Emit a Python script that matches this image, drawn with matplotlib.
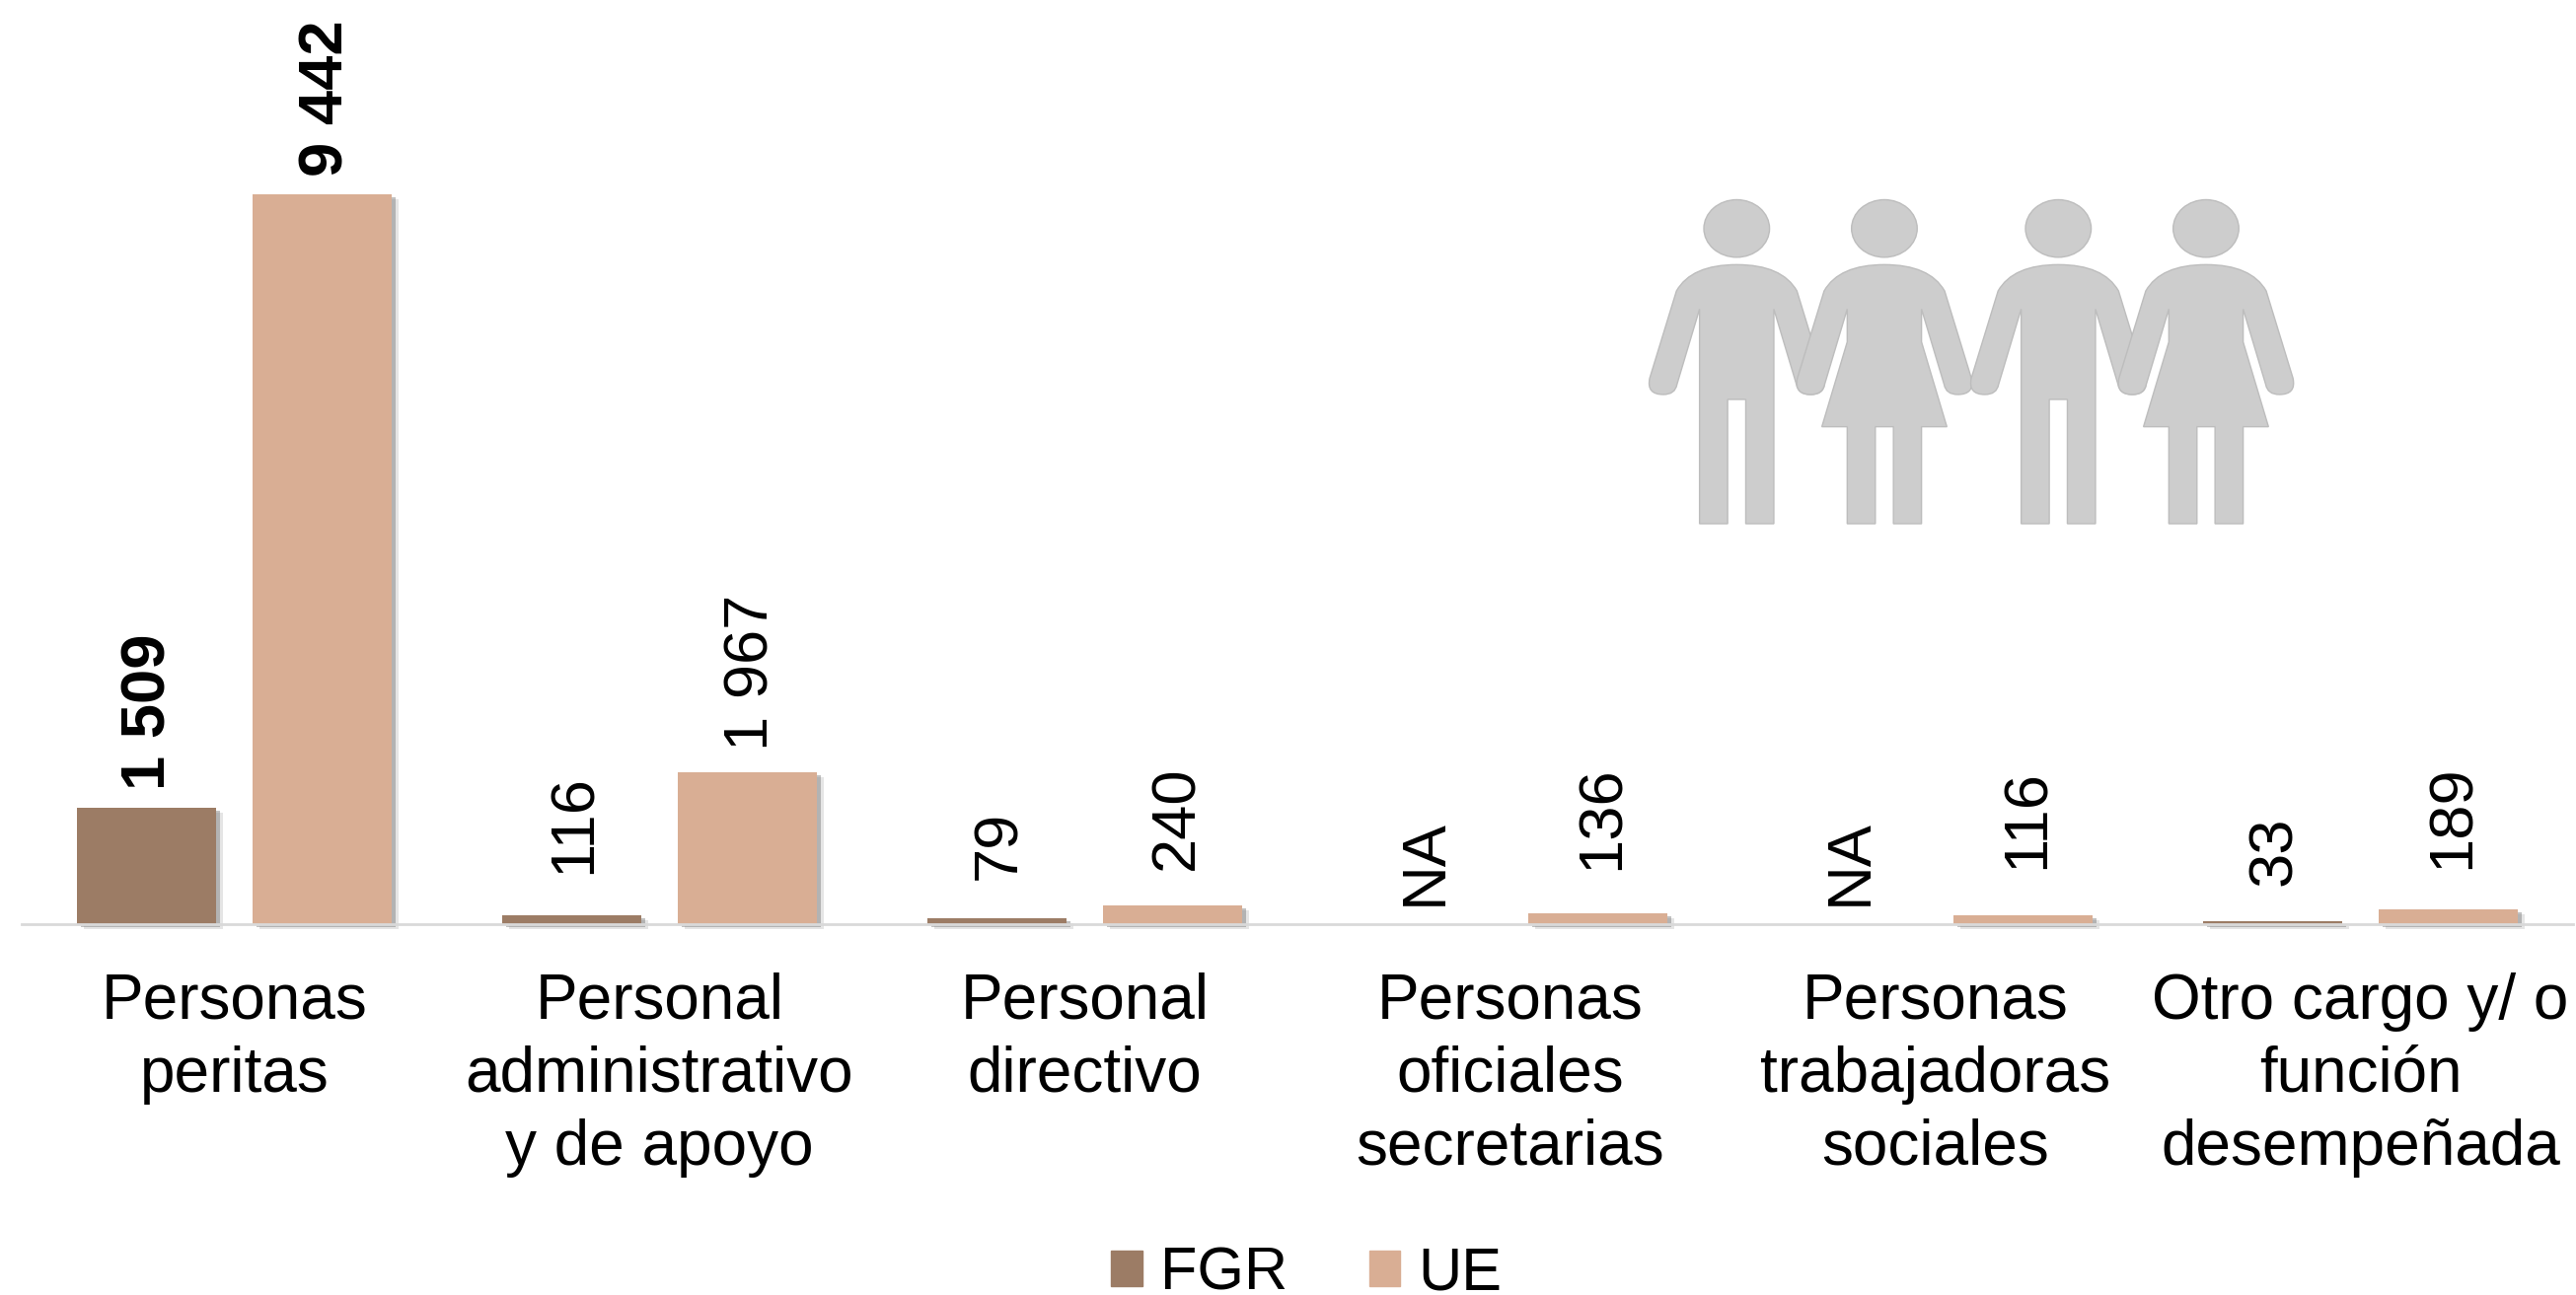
import numpy as np
import matplotlib
matplotlib.use('Agg')
import matplotlib.pyplot as plt
import matplotlib.patheffects as pe
from matplotlib.patches import Ellipse, Patch, PathPatch
from matplotlib.path import Path

plt.rcParams['font.family'] = ['Liberation Sans', 'DejaVu Sans']

categories = ['Personas\nperitas', 'Personal\nadministrativo\ny de apoyo', 'Personal\ndirectivo',
              'Personas\noficiales\nsecretarias', 'Personas\ntrabajadoras\nsociales',
              'Otro cargo y/ o\nfunción\ndesempeñada']
fgr_values = [1509, 116, 79, 0, 0, 33]
ue_values = [9442, 1967, 240, 136, 116, 189]
fgr_labels = ['1 509', '116', '79', 'NA', 'NA', '33']
ue_labels = ['9 442', '1 967', '240', '136', '116', '189']

FGR_COLOR = '#9C7C65'
UE_COLOR = '#D9AE94'
W, H = 2611, 1313

# separacion de cada etiqueta sobre su barra, en puntos
fgr_gaps = [13, 30, 28, 14, 14, 26]
ue_gaps = [13, 16, 26, 32, 34, 30]

fig = plt.figure(figsize=(W / 100, H / 100), dpi=100)
base_y = 937
left, right = 22, 2608
ax = fig.add_axes([left / W, (H - base_y) / H, (right - left) / W, base_y / H])
ax.patch.set_alpha(0)

x = np.arange(len(categories))
bar_w = 0.327
offset = 0.207
shadow = [pe.SimplePatchShadow(offset=(5, -3.5), shadow_rgbFace='#999999', alpha=0.25),
          pe.SimplePatchShadow(offset=(3, -2), shadow_rgbFace='#777777', alpha=0.45), pe.Normal()]
bars1 = ax.bar(x - offset, fgr_values, bar_w, color=FGR_COLOR, path_effects=shadow, clip_on=False)
bars2 = ax.bar(x + offset, ue_values, bar_w, color=UE_COLOR, path_effects=shadow, clip_on=False)

ax.set_xlim(-0.5, 5.5)
ax.set_ylim(0, 9442 * base_y / 740)

for i, (v, lab, gap) in enumerate(zip(fgr_values, fgr_labels, fgr_gaps)):
    ax.annotate(lab, (x[i] - offset, v), xytext=(2, gap), textcoords='offset points', rotation=90,
                ha='center', va='bottom', fontsize=45.5, fontweight='bold' if i == 0 else 'normal')
for i, (v, lab, gap) in enumerate(zip(ue_values, ue_labels, ue_gaps)):
    ax.annotate(lab, (x[i] + offset, v), xytext=(3, gap), textcoords='offset points', rotation=90,
                ha='center', va='bottom', fontsize=45.5, fontweight='bold' if i == 0 else 'normal')

for s in ['top', 'left', 'right']:
    ax.spines[s].set_visible(False)
ax.spines['bottom'].set_color('#D9D9D9')
ax.spines['bottom'].set_linewidth(2)
ax.set_yticks([])
ax.set_xticks(x)
ax.set_xticklabels(categories, fontsize=46, linespacing=1.3)
ax.tick_params(axis='x', length=0, pad=35)

handles = [Patch(color=FGR_COLOR, label='FGR'), Patch(color=UE_COLOR, label='UE')]
fig.legend(handles=handles, loc='lower left', bbox_to_anchor=(1077 / W, -0.043), ncol=2, frameon=False,
           fontsize=44, handlelength=0.52, handleheight=0.54, handletextpad=0.3, columnspacing=1.35,
           borderpad=0.3)

# figuras de personas, en pixeles de la imagen
pic = fig.add_axes([0, 0, 1, 1])
pic.set_xlim(0, W)
pic.set_ylim(H, 0)
pic.axis('off')
pic.patch.set_alpha(0)

M, L, C, Z = Path.MOVETO, Path.LINETO, Path.CURVE3, Path.CLOSEPOLY


def person(cx, woman):
    # hombro y brazo izquierdo hasta la axila
    pts = [((0, 265), M), ((-100, 265), C), ((-133, 345), C), ((-192, 610), L), ((-200, 660), C),
           ((-162, 660), C), ((-136, 660), C), ((-132, 630), C), ((-82, 400), L)]
    if woman:
        lower = [((-82, 500), L), ((-138, 758), L), ((-82, 758), L), ((-82, 1053), L), ((-20, 1053), L),
                 ((-20, 758), L), ((20, 758), L), ((20, 1053), L), ((82, 1053), L), ((82, 758), L),
                 ((138, 758), L), ((82, 500), L)]
    else:
        lower = [((-82, 1053), L), ((-20, 1053), L), ((-20, 675), L), ((20, 675), L), ((20, 1053), L),
                 ((82, 1053), L)]
    mirror = [((82, 400), L), ((132, 630), L), ((136, 660), C), ((162, 660), C), ((200, 660), C),
              ((192, 610), C), ((133, 345), L), ((100, 265), C), ((0, 265), C)]
    pts = pts + lower + mirror
    verts = [(1640 + (cx + p[0][0]) / 2.178, 180 + p[0][1] / 3) for p in pts] + [(0, 0)]
    codes = [p[1] for p in pts] + [Z]
    pic.add_patch(PathPatch(Path(verts, codes), facecolor='#CDCDCD', edgecolor='#BDBDBD', lw=1))
    pic.add_patch(Ellipse((1640 + cx / 2.178, 180 + 155 / 3), 145 / 2.178, 175 / 3,
                          facecolor='#CDCDCD', edgecolor='#BDBDBD', lw=1))


for cx, woman in [(262, False), (588, True), (972, False), (1298, True)]:
    person(cx, woman)

plt.savefig('out.png', dpi=100)
